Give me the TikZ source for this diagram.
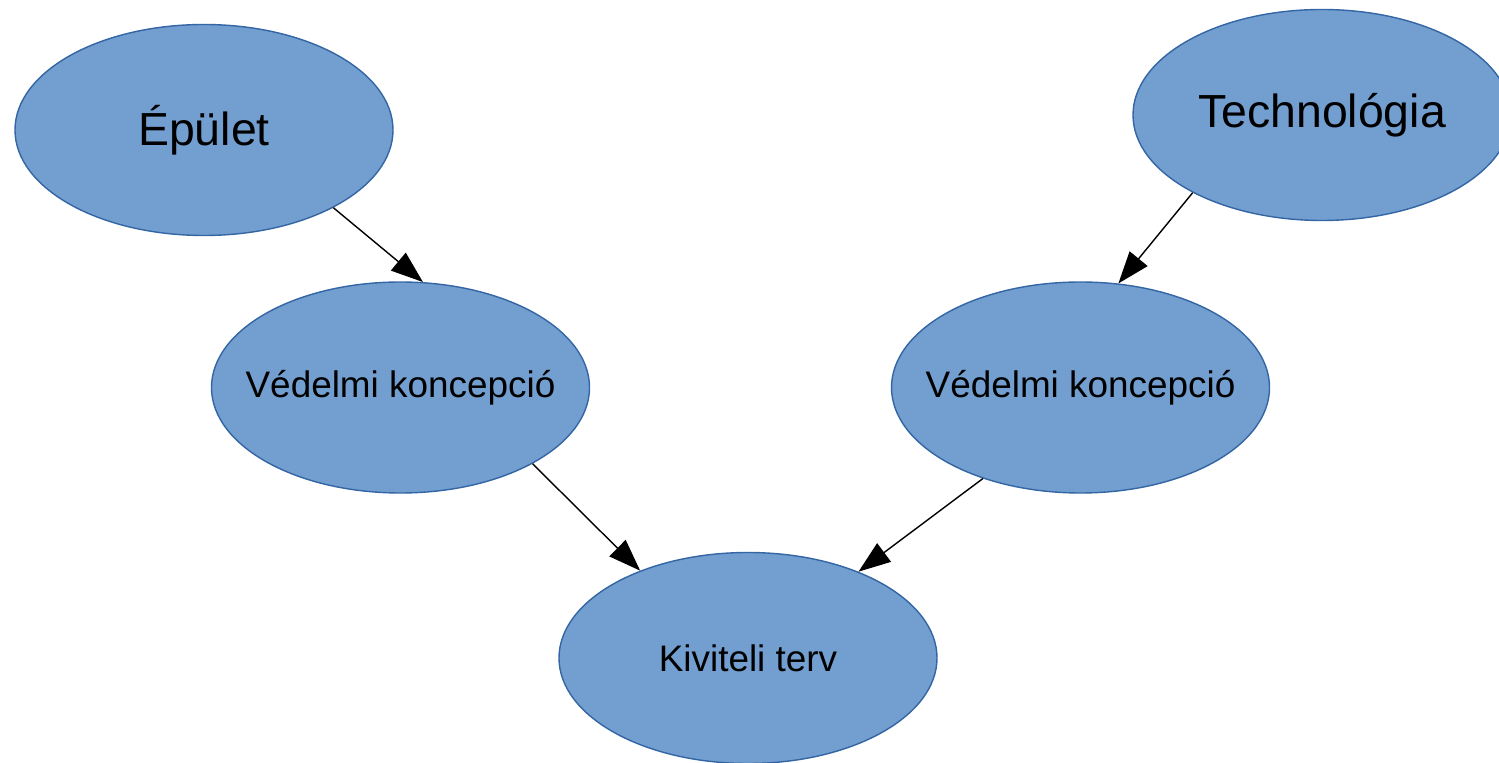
\documentclass[tikz,border=0pt]{standalone}
\usepackage{fontspec}
\setmainfont{Liberation Sans}
\usetikzlibrary{arrows.meta,shapes.geometric}
\definecolor{bubblefill}{HTML}{729FCF}
\definecolor{bubbleline}{HTML}{3465A4}

\begin{document}
\begin{tikzpicture}[
    bubble/.style={ellipse, draw=bubbleline, line width=0.4pt, fill=bubblefill,
        minimum width=3.78cm, minimum height=2.11cm, inner ysep=0pt, inner xsep=-0.6cm},
    bigtext/.style={font=\fontsize{13.2}{15}\selectfont},
    smalltext/.style={font=\fontsize{10.5}{12.5}\selectfont},
    flow/.style={-{Triangle[length=3.2mm, width=2.3mm]}, line width=0.4pt, black}
]
    \clip (0,0) rectangle (14.99,-7.63);
    \useasboundingbox (0,0) rectangle (14.99,-7.63);

    % Top level
    \node[bubble, bigtext] (epulet) at (2.04,-1.30) {Épület};
    \node[bubble, bigtext] (techn) at (13.22,-1.15) {Technológia};

    % Concepts
    \node[bubble, smalltext] (vedbal) at (4.005,-3.875) {Védelmi koncepció};
    \node[bubble, smalltext] (vedjobb) at (10.805,-3.875) {Védelmi koncepció};

    % Result
    \node[bubble, smalltext] (kivitel) at (7.48,-6.58) {Kiviteli terv};

    % Arrows
    \draw[flow] (epulet.-31) -- (vedbal.78);
    \draw[flow] (techn.-149) -- (vedjobb.70);
    \draw[flow] (vedbal.-30) -- (kivitel.141);
    \draw[flow] (vedjobb.223) -- (kivitel.38);
\end{tikzpicture}
\end{document}
